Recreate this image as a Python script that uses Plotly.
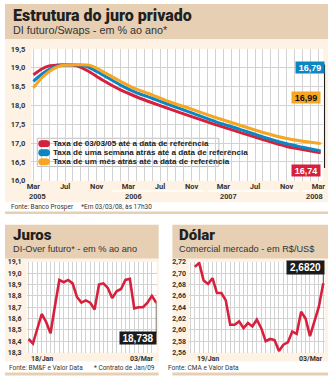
import plotly.graph_objects as go

# ---------------- data ----------------
meses = [0, 1, 2, 3, 4, 5, 6, 7, 8, 9, 11, 13, 15, 17, 20, 23, 26, 29, 32, 34, 36.3]
taxa_0303 = [18.81, 18.96, 19.05, 19.07, 19.08, 19.07, 19.01, 18.90, 18.77, 18.64, 18.41,
             18.23, 18.07, 17.92, 17.70, 17.49, 17.29, 17.09, 16.91, 16.83, 16.74]
taxa_semana = [18.64, 18.82, 18.96, 19.04, 19.07, 19.08, 19.07, 19.01, 18.90, 18.78, 18.54,
               18.34, 18.19, 18.03, 17.80, 17.57, 17.37, 17.16, 16.98, 16.89, 16.79]
taxa_mes = [18.47, 18.72, 18.90, 19.02, 19.07, 19.08, 19.08, 19.07, 18.99, 18.87, 18.64,
            18.43, 18.28, 18.11, 17.90, 17.68, 17.48, 17.28, 17.12, 17.05, 16.99]
serie_nomes = ["Taxa de 03/03/05 até a data de referência",
               "Taxa de uma semana atrás até a data de referência",
               "Taxa de um mês atrás até a data de referência"]
xtick_vals = [0, 4, 8, 12, 16, 20, 24, 28, 32, 36]
xtick_text = ["Mar", "Jul", "Nov", "Mar", "Jul", "Nov", "Mar", "Jul", "Nov", "Mar"]
anos = ["2005", "2006", "2007", "2008"]

juros = [18.42, 18.38, 18.51, 18.64, 18.57, 18.47, 18.71, 18.94, 18.92, 18.94,
         18.91, 18.79, 18.74, 18.76, 18.74, 18.68, 18.90, 18.91, 18.87, 18.78,
         18.84, 18.86, 18.94, 18.95, 18.69, 18.70, 18.70, 18.74, 18.80, 18.738]
juros_labels = ["18/Jan", "03/Mar"]

dolar = [2.711, 2.718, 2.687, 2.681, 2.691, 2.665, 2.665, 2.652, 2.609, 2.609,
         2.615, 2.603, 2.612, 2.606, 2.618, 2.603, 2.580, 2.584, 2.582, 2.563,
         2.574, 2.578, 2.597, 2.593, 2.632, 2.620, 2.589, 2.615, 2.641, 2.682]
dolar_labels = ["19/Jan", "03/Mar"]

# ---------------- style ----------------
W, H = 330, 382
RED = "#d7203c"
BLUE = "#0b86c3"
ORANGE = "#f6a623"
TAN = "#e6cfb3"
CREAM = "#fdf2e3"
GRID = "#d2d2d2"
COND = "Roboto, Liberation Sans, sans-serif"
SANS = "Liberation Sans, Arial, sans-serif"


def px(x):
    return x / W


def py(y):
    return 1 - y / H


shapes = []
annotations = []


def rect(x0, y0, x1, y1, color, line=None):
    shapes.append(dict(type="rect", xref="paper", yref="paper",
                       x0=px(x0), x1=px(x1), y0=py(y1), y1=py(y0),
                       fillcolor=color, line=line or dict(width=0), layer="below"))


def text(x, y, s, size, color="#222", family=SANS, bold=False, xanchor="left",
         yanchor="middle", weight=None, **kw):
    w = weight if weight is not None else ("bold" if bold else "normal")
    annotations.append(dict(x=px(x), y=py(y), xref="paper", yref="paper", text=s,
                            showarrow=False, xanchor=xanchor, yanchor=yanchor,
                            font=dict(size=size, color=color, family=family,
                                      weight=w), **kw))


def fmt(v, d):
    return f"{v:.{d}f}".replace(".", ",")


# backgrounds
rect(0, 0, 330, 36, TAN)
rect(0, 36, 330, 203, CREAM)
rect(27, 46, 325, 181, "white")
rect(0, 212.5, 330, 215, TAN)
rect(0, 226, 157, 261, TAN)
rect(0, 261, 157, 366, CREAM)
rect(22, 264, 155, 357, "white")
rect(171, 226, 330, 261, TAN)
rect(171, 261, 330, 366, CREAM)
rect(188, 264, 327, 357, "white")
rect(0, 377.5, 157, 380.5, TAN)
rect(171, 377.5, 330, 380.5, TAN)

# ---------------- traces ----------------
fig = go.Figure()
for vals, col, name in [(taxa_0303, RED, serie_nomes[0]),
                        (taxa_semana, BLUE, serie_nomes[1]),
                        (taxa_mes, ORANGE, serie_nomes[2])]:
    fig.add_trace(go.Scatter(x=meses, y=vals, mode="lines", name=name,
                             line=dict(color=col, width=3, shape="spline", smoothing=0.6),
                             xaxis="x", yaxis="y"))

fig.add_trace(go.Scatter(x=list(range(len(juros))), y=juros, mode="lines",
                         line=dict(color=RED, width=2.6), xaxis="x2", yaxis="y2"))
fig.add_trace(go.Scatter(x=list(range(len(dolar))), y=dolar, mode="lines",
                         line=dict(color=RED, width=2.6), xaxis="x3", yaxis="y3"))

tick_font = dict(family=COND, size=7.5, color="#333", weight="bold")
small_tick = dict(family=COND, size=7, color="#333", weight="bold")

axis_common = dict(showline=False, zeroline=False, ticks="", gridcolor=GRID, gridwidth=1,
                   fixedrange=True)

layout = dict(
    width=W, height=H, margin=dict(l=0, r=0, t=0, b=0),
    paper_bgcolor="white", plot_bgcolor="rgba(0,0,0,0)",
    showlegend=False, separators=",.",
    xaxis=dict(domain=[px(27), px(325)], range=[-0.25, 36.6], anchor="y",
               tickmode="array", tickvals=xtick_vals, ticktext=xtick_text,
               tickfont=tick_font, showgrid=True, ticklabelstandoff=0,
               minor=dict(dtick=1, tick0=0, showgrid=True, gridcolor=GRID, gridwidth=1),
               **axis_common),
    yaxis=dict(domain=[py(181), py(46)], range=[16, 19.5], anchor="x",
               dtick=0.5, tick0=16, tickformat=".1f", tickfont=tick_font,
               showgrid=True, ticklabelstandoff=5, **axis_common),
    xaxis2=dict(domain=[px(22), px(155)], range=[-0.45, 29.1], anchor="y2",
                dtick=1, tick0=0, showticklabels=False, showgrid=True, **axis_common),
    yaxis2=dict(domain=[py(357), py(264)], range=[18.3, 19.1], anchor="x2",
                dtick=0.1, tick0=18.3, tickformat=".1f", tickfont=small_tick,
                showgrid=True, ticklabelstandoff=4, **axis_common),
    xaxis3=dict(domain=[px(188), px(327)], range=[-1.3, 29.4], anchor="y3",
                dtick=1, tick0=0, showticklabels=False, showgrid=True, **axis_common),
    yaxis3=dict(domain=[py(357), py(264)], range=[2.56, 2.72], anchor="x3",
                dtick=0.02, tick0=2.56, tickformat=".2f", tickfont=small_tick,
                showgrid=True, ticklabelstandoff=2, **axis_common),
)

# ---------------- top panel texts ----------------
text(6, 12, "Estrutura do juro privado", 16, color="#231f20", family=COND, weight=900)
text(6, 27, "DI futuro/Swaps - em % ao ano*", 10.8, color="#333", family=SANS)

# year labels under month ticks
ano_pos = [0.5, 12.7, 24.7, 36.5]
for a, m, xa in zip(anos, ano_pos, ["center", "center", "center", "right"]):
    annotations.append(dict(x=m, y=py(197), xref="x", yref="paper",
                            text=a, showarrow=False, xanchor=xa, yanchor="middle",
                            xshift=3 if xa == "right" else 0,
                            font=dict(size=7.5, color="#333", family=SANS, weight="bold")))
# year separators
for m0, m1 in [(10, 21.5), (22, 33.5), (34, 36.6)]:
    shapes.append(dict(type="line", xref="x", yref="paper", x0=m0, x1=m1,
                       y0=py(191.5), y1=py(191.5), line=dict(color="#ffffff", width=1.5)))

text(4, 207.5, "Fonte: Banco Prosper     *Em 03/03/08, às 17h30", 6.5, color="#333", family=COND)

# legend box
rect(33, 137.5, 218.5, 166.5, "white", line=dict(color="#bdbdbd", width=1))
for i, (name, col) in enumerate(zip(serie_nomes, [RED, BLUE, ORANGE])):
    yc = 143 + i * 9.3
    for x0, x1, t in [(34, 41, "circle"), (37.5, 42.5, "rect"), (39, 46, "circle")]:
        shapes.append(dict(type=t, xref="paper", yref="paper", x0=px(x0), x1=px(x1),
                           y0=py(yc + 3.5), y1=py(yc - 3.5), fillcolor=col,
                           line=dict(width=0)))
    text(47, yc, name, 8.1, color="#222", family=SANS, bold=True)

# value labels at the right
shapes.append(dict(type="line", xref="paper", yref="paper", x0=px(326.5), x1=px(326.5),
                   y0=py(62), y1=py(168), line=dict(color="#111", width=1)))
for v, col, fc, cx, cy in [(taxa_semana[-1], BLUE, "white", 312, 65.5),
                           (taxa_mes[-1], ORANGE, "#111", 308, 95.5),
                           (taxa_0303[-1], RED, "white", 308, 171)]:
    annotations.append(dict(x=px(cx), y=py(cy), xref="paper", yref="paper",
                            text=fmt(v, 2), showarrow=False, xanchor="center",
                            yanchor="middle", bgcolor=col, width=28, height=11,
                            borderpad=0,
                            font=dict(size=9, color=fc, family=SANS, weight="bold")))

# ---------------- bottom left ----------------
text(6, 237, "Juros", 15, color="#231f20", family=COND, weight=900)
text(6, 251, "DI-Over futuro* - em % ao ano", 9.2, color="#333", family=SANS)
annotations.append(dict(x=0, y=py(364), xref="x2", yref="paper", text=juros_labels[0],
                        showarrow=False, xanchor="left", yanchor="middle", font=small_tick))
annotations.append(dict(x=len(juros) - 1, y=py(364), xref="x2", yref="paper",
                        text=juros_labels[1], showarrow=False, xanchor="right",
                        yanchor="middle", font=small_tick))
shapes.append(dict(type="line", xref="x2", yref="y2", x0=len(juros) - 1, x1=len(juros) - 1,
                   y0=juros[-1], y1=18.47, line=dict(color="#555", width=1)))
annotations.append(dict(x=px(136), y=py(342.5), xref="paper", yref="paper",
                        text=fmt(juros[-1], 3), showarrow=False, xanchor="center",
                        yanchor="middle", bgcolor="#1b1b1b", width=36, height=12,
                        borderpad=0,
                        font=dict(size=10, color="white", family=SANS, weight="bold")))
text(2, 372.5, "Fonte: BM&F e Valor Data       * Contrato de Jan/09", 6.5, color="#333",
     family=COND)

# ---------------- bottom right ----------------
text(176, 237, "Dólar", 15, color="#231f20", family=COND, weight=900)
text(176, 251, "Comercial mercado - em R$/US$", 9.2, color="#333", family=SANS)
annotations.append(dict(x=0, y=py(364), xref="x3", yref="paper", text=dolar_labels[0],
                        showarrow=False, xanchor="left", yanchor="middle", font=small_tick))
annotations.append(dict(x=len(dolar) - 1 + 0.4, y=py(364), xref="x3", yref="paper",
                        text=dolar_labels[1], showarrow=False, xanchor="right",
                        yanchor="middle", font=small_tick))
shapes.append(dict(type="line", xref="x3", yref="y3", x0=len(dolar) - 1, x1=len(dolar) - 1,
                   y0=dolar[-1], y1=2.698, line=dict(color="#555", width=1)))
annotations.append(dict(x=px(307), y=py(270), xref="paper", yref="paper",
                        text=fmt(dolar[-1], 4), showarrow=False, xanchor="center",
                        yanchor="middle", bgcolor="#1b1b1b", width=37, height=13,
                        borderpad=0,
                        font=dict(size=10, color="white", family=SANS, weight="bold")))
text(164, 373, "Fonte: CMA e Valor Data", 6.5, color="#333", family=COND)

layout["shapes"] = shapes
layout["annotations"] = annotations
fig.update_layout(**layout)
fig.write_html("out.html")
